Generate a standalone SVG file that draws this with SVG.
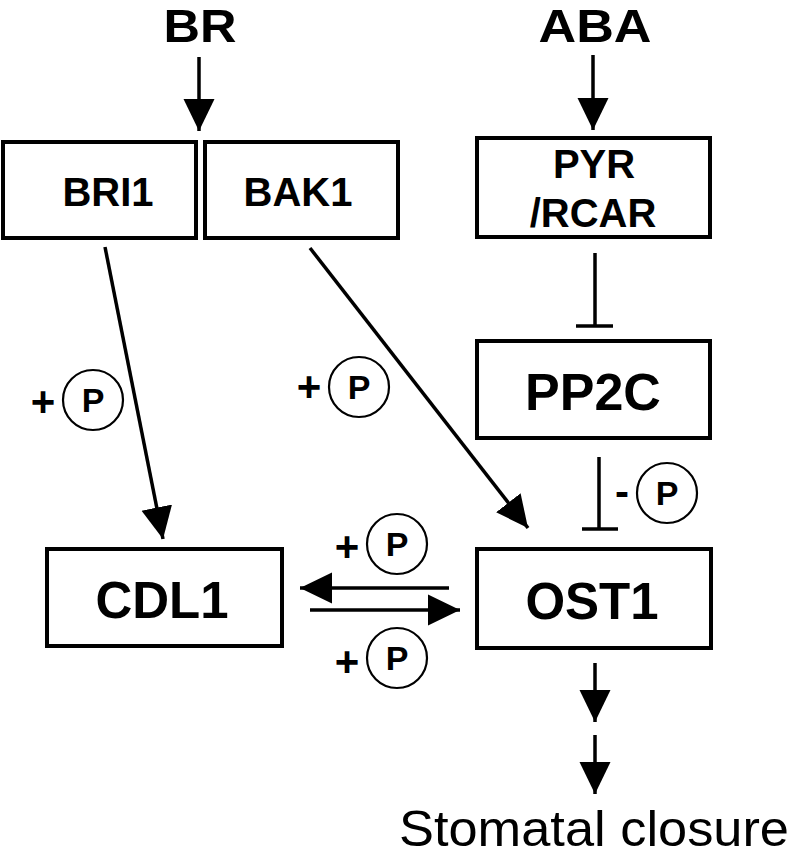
<svg xmlns="http://www.w3.org/2000/svg" width="792" height="858" viewBox="0 0 792 858">
<defs>
<marker id="ah" markerUnits="userSpaceOnUse" markerWidth="34" markerHeight="32" refX="32" refY="16" orient="auto"><path d="M0,0.5 L32,16 L0,31.5 z" fill="#000"/></marker>
<style>
.box{fill:#fff;stroke:#000;stroke-width:4}
.t{font-family:"Liberation Sans",Arial,sans-serif;font-weight:bold;text-anchor:middle;fill:#000}
.ln{stroke:#000;stroke-width:3.5;fill:none}
.arr{stroke:#000;stroke-width:3.5;fill:none;marker-end:url(#ah)}
.pc{fill:#fff;stroke:#000;stroke-width:2.2}
</style>
</defs>
<rect width="792" height="858" fill="#fff"/>
<g id="connectors">
<line class="arr" x1="199" y1="57" x2="199" y2="131"/>
<line class="arr" x1="593" y1="55" x2="593" y2="130"/>
<line class="arr" x1="105" y1="247" x2="163" y2="539"/>
<line class="arr" x1="310" y1="248" x2="528" y2="528"/>
<line class="ln" x1="595" y1="253" x2="595" y2="326"/>
<line class="ln" x1="576" y1="326" x2="613" y2="326" stroke-width="4"/>
<line class="ln" x1="599" y1="457" x2="599" y2="529"/>
<line class="ln" x1="582" y1="529" x2="618" y2="529" stroke-width="4"/>
<line class="arr" x1="449" y1="588" x2="300" y2="588"/>
<line class="arr" x1="310" y1="610" x2="460" y2="610"/>
<line class="arr" x1="595" y1="663" x2="595" y2="722"/>
<line class="arr" x1="595" y1="735" x2="595" y2="794"/>
</g>
<g id="BR"><text class="t" x="200" y="42" font-size="46" textLength="73" lengthAdjust="spacingAndGlyphs">BR</text></g>
<g id="ABA"><text class="t" x="595" y="42" font-size="46" textLength="113" lengthAdjust="spacingAndGlyphs">ABA</text></g>
<g id="BRI1"><rect class="box" x="3" y="142" width="193" height="96"/><text class="t" x="108" y="206" font-size="40">BRI1</text></g>
<g id="BAK1"><rect class="box" x="205" y="142" width="193" height="96"/><text class="t" x="298" y="206" font-size="40">BAK1</text></g>
<g id="PYR_RCAR"><rect class="box" x="477" y="138" width="233" height="99"/><text class="t" x="594" y="178" font-size="40">PYR</text><text class="t" x="593" y="227" font-size="40">/RCAR</text></g>
<g id="PP2C"><rect class="box" x="477" y="341" width="233" height="97"/><text class="t" x="593" y="410" font-size="52">PP2C</text></g>
<g id="CDL1"><rect class="box" x="47" y="549" width="235" height="97"/><text class="t" x="162" y="618" font-size="51">CDL1</text></g>
<g id="OST1"><rect class="box" x="477" y="549" width="234" height="99"/><text class="t" x="592" y="619" font-size="51">OST1</text></g>
<g id="P1"><text class="t" x="43" y="416" font-size="42">+</text><circle class="pc" cx="93" cy="400" r="30"/><text class="t" x="93" y="412" font-size="34">P</text></g>
<g id="P2"><text class="t" x="309" y="401" font-size="42">+</text><circle class="pc" cx="359" cy="387" r="30"/><text class="t" x="359" y="399" font-size="34">P</text></g>
<g id="P3"><text class="t" x="622" y="506" font-size="42">-</text><circle class="pc" cx="667" cy="493" r="30"/><text class="t" x="667" y="505" font-size="34">P</text></g>
<g id="P4"><text class="t" x="347" y="561" font-size="42">+</text><circle class="pc" cx="397" cy="544" r="30"/><text class="t" x="397" y="556" font-size="34">P</text></g>
<g id="P5"><text class="t" x="347" y="676" font-size="42">+</text><circle class="pc" cx="397" cy="658" r="30"/><text class="t" x="397" y="670" font-size="34">P</text></g>
<g id="Stomatal"><text x="594" y="846" font-size="50" text-anchor="middle" textLength="390" lengthAdjust="spacingAndGlyphs" font-family="'Liberation Sans',Arial,sans-serif" fill="#000">Stomatal closure</text></g>
</svg>
